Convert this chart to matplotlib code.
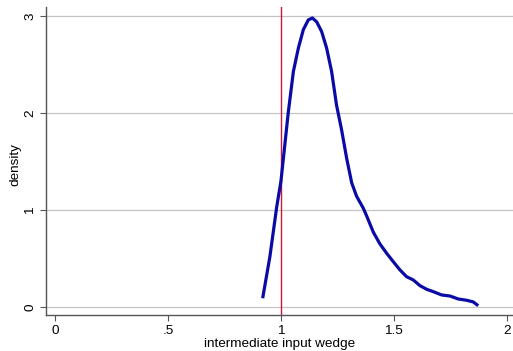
import matplotlib
matplotlib.use("Agg")
import matplotlib.pyplot as plt
import numpy as np

# kernel density of the intermediate input wedge
wedge = [0.919, 0.951, 0.981, 1.000, 1.016, 1.032, 1.055, 1.077, 1.099, 1.121,
         1.139, 1.158, 1.180, 1.202, 1.224, 1.246, 1.268, 1.291, 1.313, 1.335,
         1.364, 1.379, 1.409, 1.438, 1.468, 1.497, 1.527, 1.556, 1.586, 1.615,
         1.645, 1.674, 1.711, 1.748, 1.785, 1.822, 1.851, 1.873]
density = [0.09, 0.52, 1.03, 1.30, 1.65, 2.00, 2.43, 2.67, 2.86, 2.96,
           2.98, 2.94, 2.84, 2.67, 2.43, 2.08, 1.83, 1.53, 1.28, 1.14,
           1.02, 0.94, 0.77, 0.65, 0.553, 0.467, 0.381, 0.312, 0.278, 0.22,
           0.182, 0.158, 0.124, 0.113, 0.082, 0.069, 0.052, 0.013]

xticks = [0, 0.5, 1, 1.5, 2]
xticklabels = ["0", ".5", "1", "1.5", "2"]
yticks = [0, 1, 2, 3]
ref_line = 1.0

plt.rcParams['font.family'] = ['Liberation Sans', 'DejaVu Sans']
plt.rcParams['font.size'] = 9.7

fig = plt.figure(figsize=(5.13, 3.51), dpi=100)
ax = fig.add_axes([0.0897, 0.1017, 0.9103, 0.8783])

for y in yticks:
    ax.axhline(y, color='#c4c4c4', lw=0.9, zorder=1)

ax.axvline(ref_line, color='#c8183f', lw=1.0, zorder=2)
ax.plot(wedge, density, color='#0a0aa6', lw=2.3, solid_joinstyle='round',
        solid_capstyle='butt', zorder=3)

ax.set_xlim(-0.04, 2.027)
ax.set_ylim(-0.086, 3.093)

ax.set_xticks(xticks)
ax.set_xticklabels(xticklabels)
ax.set_yticks(yticks)
ax.set_yticklabels([str(v) for v in yticks], rotation=90, va='center')

for side in ['top', 'right']:
    ax.spines[side].set_visible(False)
for side in ['left', 'bottom']:
    ax.spines[side].set_color('#555555')
    ax.spines[side].set_linewidth(1.0)

ax.tick_params(direction='out', length=4, width=0.8, color='#555555',
               labelcolor='black', pad=3)

ax.set_xlabel('intermediate input wedge')
ax.xaxis.set_label_coords(0.501, -0.074)
ax.set_ylabel('density')
ax.yaxis.set_label_coords(-0.053, 0.49)

fig.savefig('out.png', dpi=100)
